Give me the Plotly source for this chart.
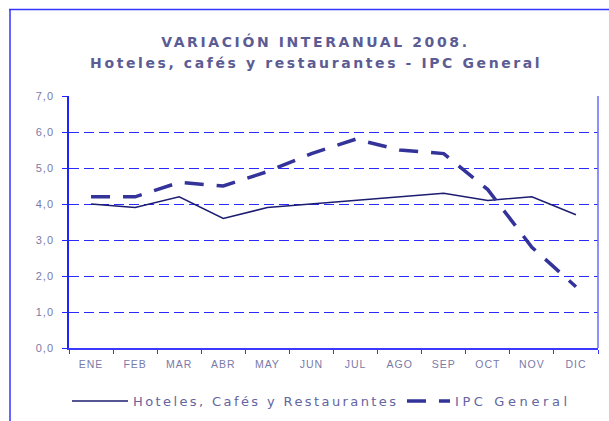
import plotly.graph_objects as go

months = ["ENE", "FEB", "MAR", "ABR", "MAY", "JUN", "JUL", "AGO", "SEP", "OCT", "NOV", "DIC"]
hoteles = [4.0, 3.9, 4.2, 3.6, 3.9, 4.0, 4.1, 4.2, 4.3, 4.1, 4.2, 3.7]
ipc = [4.2, 4.2, 4.6, 4.5, 4.9, 5.4, 5.8, 5.5, 5.4, 4.4, 2.8, 1.7]
y_ticks = [0, 1, 2, 3, 4, 5, 6, 7]
y_ticktext = ["0,0", "1,0", "2,0", "3,0", "4,0", "5,0", "6,0", "7,0"]
title1 = "VARIACIÓN INTERANUAL 2008."
title2 = "Hoteles, cafés y restaurantes - IPC General"
name_h = "Hoteles, Cafés y Restaurantes"
name_i = "IPC General"

W, H = 609, 421
L, R, T, B = 69, 11, 96, 73
pw, ph = W - L - R, H - T - B

def px(x):
    return (x - L) / pw

def py(y):
    return (H - B - y) / ph

tick_color = "#7a7aa8"
title_color = "#5c5c94"
legend_font = dict(family="DejaVu Sans", size=13, color="#6464a0")

fig = go.Figure()
fig.add_trace(go.Scatter(x=months, y=hoteles, name=name_h, mode="lines",
                         line=dict(color="#1c1c70", width=1.5), legend="legend"))
fig.add_trace(go.Scatter(x=months, y=ipc, name=name_i, mode="lines",
                         line=dict(color="#333399", width=3.5, dash="19px,13px"), legend="legend2"))

fig.update_layout(
    width=W, height=H,
    margin=dict(l=L, r=R, t=T, b=B, pad=0, autoexpand=False),
    paper_bgcolor="white", plot_bgcolor="white",
    showlegend=True,
    legend=dict(orientation="h", x=px(67), y=py(386), xanchor="left", yanchor="top",
                font=legend_font, itemwidth=56, entrywidth=270, entrywidthmode="pixels",
                bgcolor="rgba(0,0,0,0)", borderwidth=0),
    legend2=dict(orientation="h", x=px(402), y=py(386), xanchor="left", yanchor="top",
                 font=legend_font, itemwidth=43, entrywidth=140, entrywidthmode="pixels",
                 bgcolor="rgba(0,0,0,0)", borderwidth=0),
    xaxis=dict(type="category", range=[-0.5, 11.5], showgrid=False, showline=True,
               linecolor="#3a3aff", linewidth=2,
               ticks="outside", tickson="boundaries", ticklen=4, tickcolor="#3a3aff", tickwidth=1,
               tickfont=dict(family="Liberation Sans", size=10.5, color=tick_color),
               ticklabelstandoff=5,
               zeroline=False, fixedrange=True, automargin=False),
    yaxis=dict(range=[0, 7], tickvals=y_ticks, ticktext=y_ticktext, showgrid=True,
               gridcolor="#2a2aff", griddash="10px,5px", gridwidth=1,
               showline=True, linecolor="#2222ff", linewidth=1.5,
               ticks="outside", ticklen=5, tickcolor="#2222ff",
               tickfont=dict(family="Liberation Sans", size=11, color=tick_color),
               ticklabelstandoff=6, zeroline=False, fixedrange=True, automargin=False),
    annotations=[
        dict(text="<b>" + title1 + "</b>", x=px(315), y=py(41), xref="paper", yref="paper",
             xanchor="center", yanchor="middle", showarrow=False,
             font=dict(family="DejaVu Sans", size=14, color=title_color)),
        dict(text="<b>" + title2 + "</b>", x=px(316), y=py(63), xref="paper", yref="paper",
             xanchor="center", yanchor="middle", showarrow=False,
             font=dict(family="DejaVu Sans", size=14, color=title_color)),
    ],
    shapes=[
        # outer frame (top and left)
        dict(type="line", xref="paper", yref="paper", x0=px(9), x1=px(612), y0=py(9.5), y1=py(9.5),
             line=dict(color="#3535ff", width=1.5)),
        dict(type="line", xref="paper", yref="paper", x0=px(10), x1=px(10), y0=py(9.5), y1=py(425),
             line=dict(color="#3535ff", width=1.5)),
        # right edge of plot area
        dict(type="line", xref="paper", yref="paper", x0=1, x1=1, y0=0, y1=1,
             line=dict(color="#6a6aff", width=1.5)),
    ],
)

post = """
var gd = document.getElementById('{plot_id}');
document.body.style.margin = '0';
gd.style.position = 'absolute';
gd.style.left = '0px';
gd.style.top = '0px';
var st = document.createElement('style');
st.textContent = '.annotation-text{letter-spacing:2.6px !important;}' +
  'text.legendtext{letter-spacing:2.4px !important;}' +
  'text.legend2text{letter-spacing:3.6px !important;}' +
  '.xtick text,.ytick text{letter-spacing:1px !important;}';
document.head.appendChild(st);
"""

fig.write_html("out.html", post_script=post, config={"displayModeBar": False})
